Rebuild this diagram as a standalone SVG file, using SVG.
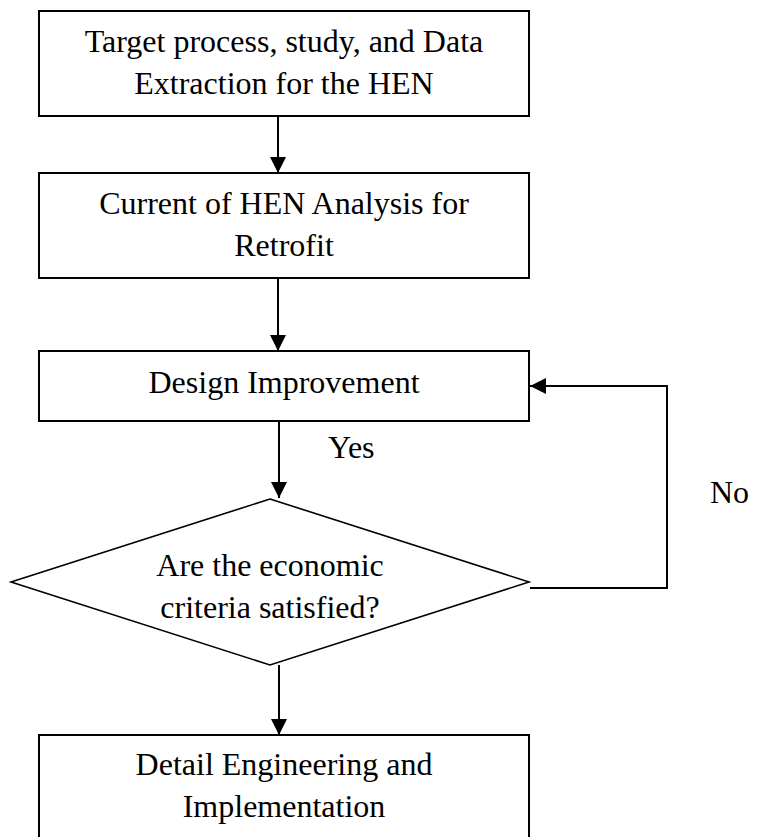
<svg xmlns="http://www.w3.org/2000/svg" width="758" height="837" viewBox="0 0 758 837">
  <style>
    .box { fill: #ffffff; stroke: #000000; stroke-width: 2; }
    .dec { fill: #ffffff; stroke: #000000; stroke-width: 1.6; }
    .lbl { font-family: "Liberation Serif", "Times New Roman", serif; font-size: 32px; fill: #000000; text-anchor: middle; }
    .tag { font-family: "Liberation Serif", "Times New Roman", serif; font-size: 32px; fill: #000000; }
    .wire { fill: none; stroke: #000000; stroke-width: 2; }
  </style>
  <defs>
    <marker id="head" viewBox="0 0 16 16" refX="16" refY="8" markerWidth="16" markerHeight="16" markerUnits="userSpaceOnUse" orient="auto">
      <path d="M0,0 L16,8 L0,16 Z" fill="#000000"/>
    </marker>
  </defs>

  <g id="connectors">
    <line class="wire" x1="278" y1="116" x2="278" y2="173" marker-end="url(#head)"/>
    <line class="wire" x1="278" y1="278" x2="278" y2="351" marker-end="url(#head)"/>
    <line class="wire" x1="279" y1="421" x2="279" y2="498" marker-end="url(#head)"/>
    <line class="wire" x1="279" y1="665" x2="279" y2="735" marker-end="url(#head)"/>
    <polyline class="wire" points="530,588 667,588 667,386 530,386" marker-end="url(#head)"/>
    <text class="tag" x="328" y="458">Yes</text>
    <text class="tag" x="710" y="503">No</text>
  </g>

  <g id="extract">
    <rect class="box" x="39" y="11" width="490" height="105"/>
    <text class="lbl" x="284" y="52">Target process, study, and Data</text>
    <text class="lbl" x="284" y="94">Extraction for the HEN</text>
  </g>

  <g id="analysis">
    <rect class="box" x="39" y="173" width="490" height="105"/>
    <text class="lbl" x="284" y="214">Current of HEN Analysis for</text>
    <text class="lbl" x="284" y="256">Retrofit</text>
  </g>

  <g id="improve">
    <rect class="box" x="39" y="351" width="490" height="70"/>
    <text class="lbl" x="284" y="393">Design Improvement</text>
  </g>

  <g id="criteria">
    <polygon class="dec" points="270,499 529,582 270,665 11,582"/>
    <text class="lbl" x="270" y="576">Are the economic</text>
    <text class="lbl" x="270" y="618">criteria satisfied?</text>
  </g>

  <g id="implement">
    <rect class="box" x="39" y="735" width="490" height="105"/>
    <text class="lbl" x="284" y="775">Detail Engineering and</text>
    <text class="lbl" x="284" y="817">Implementation</text>
  </g>
</svg>
